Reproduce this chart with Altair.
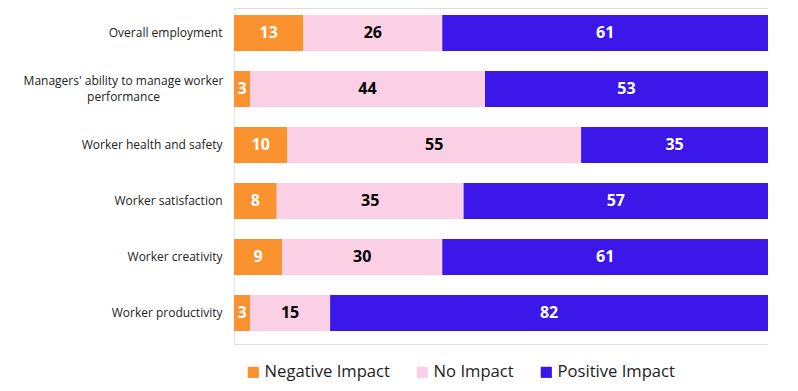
import altair as alt
import pandas as pd

categories = [
    "Overall employment",
    "Managers' ability to manage worker performance",
    "Worker health and safety",
    "Worker satisfaction",
    "Worker creativity",
    "Worker productivity",
]
negative = [13, 3, 10, 8, 9, 3]
no_impact = [26, 44, 55, 35, 30, 15]
positive = [61, 53, 35, 57, 61, 82]

series = ["Negative Impact", "No Impact", "Positive Impact"]
colors = ["#F9922F", "#FBD0E4", "#3B17E9"]
text_colors = ["#FFFFFF", "#000000", "#FFFFFF"]

rows = []
for i, c in enumerate(categories):
    for j, (s, vals) in enumerate(zip(series, [negative, no_impact, positive])):
        rows.append({"category": c, "series": s, "value": vals[i], "order": j,
                     "tcolor": text_colors[j]})
df = pd.DataFrame(rows)

FONT = "Open Sans"
LONG = "Managers' ability to manage worker performance"
TEST = "datum.label == \"" + LONG + "\""

y_scale = alt.Scale(paddingInner=0.357, paddingOuter=0.1785, range=[-3, 333])

y_enc = alt.Y(
    "category:N",
    sort=categories,
    title=None,
    scale=y_scale,
    axis=alt.Axis(
        ticks=False,
        domain=True,
        domainColor="#E6E6E6",
        labelFont=FONT,
        labelFontSize=12,
        labelColor="#222222",
        labelLimit=300,
        labelLineHeight=16,
        labelAlign={"condition": {"test": TEST, "value": "center"}, "value": "right"},
        labelPadding={"condition": {"test": TEST, "value": 111}, "value": 12},
        labelOffset={"condition": {"test": TEST, "value": -8}, "value": 0},
        labelExpr=TEST + " ? [\"Managers' ability to manage worker\", 'performance'] : datum.label",
    ),
)

base = alt.Chart(df).transform_stack(
    stack="value", groupby=["category"], as_=["x0", "x1"], sort=[alt.SortField("order")]
).transform_calculate(mid="(datum.x0 + datum.x1) / 2")

bars = base.mark_bar(stroke=None).encode(
    y=y_enc,
    x=alt.X("x0:Q", scale=alt.Scale(domain=[0, 100], nice=False), axis=None),
    x2="x1:Q",
    color=alt.Color(
        "series:N",
        scale=alt.Scale(domain=series, range=colors),
        legend=alt.Legend(
            title=None,
            orient="none",
            legendX=11,
            legendY=356,
            direction="horizontal",
            symbolType="square",
            symbolSize=125,
            symbolStrokeWidth=0,
            labelFont=FONT,
            labelFontSize=16.6,
            labelColor="#222222",
            columnPadding=24,
            labelOffset=3,
        ),
    ),
)

labels = base.mark_text(font=FONT, fontSize=16, fontWeight="bold").encode(
    y=alt.Y("category:N", sort=categories),
    x=alt.X("mid:Q"),
    text=alt.Text("value:Q"),
    color=alt.Color("tcolor:N", scale=None),
)

chart = (
    alt.layer(bars, labels)
    .properties(
        width=534,
        height=336,
        autosize=alt.AutoSizeParams(type="none"),
        padding={"left": 226, "top": 0, "right": 0, "bottom": 40},
    )
    .configure_view(stroke=None)
    .configure(background="white")
)

chart.save("out.html", embed_options={"renderer": "svg", "actions": False})
